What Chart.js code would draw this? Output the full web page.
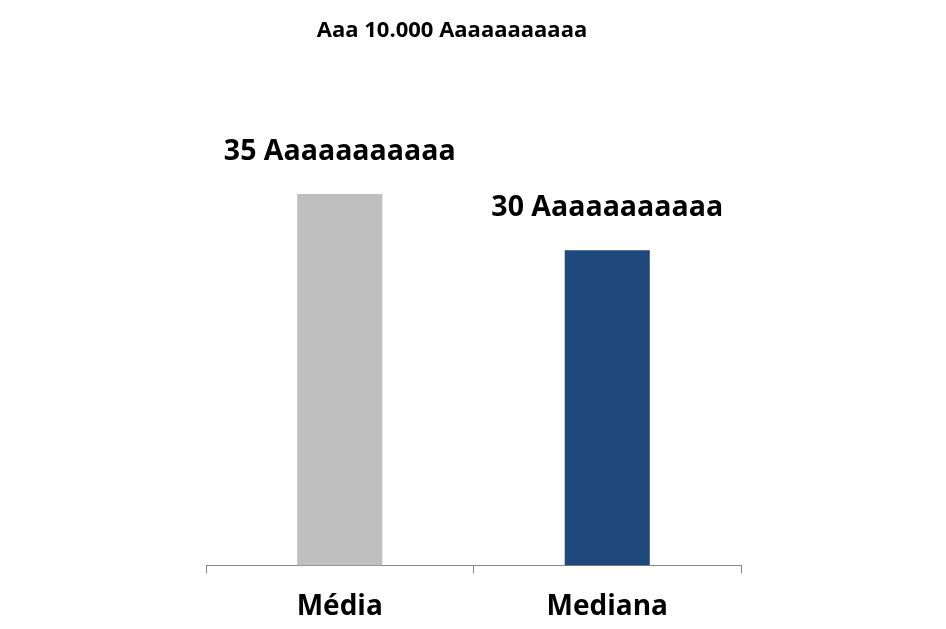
<!DOCTYPE html>
<html>
<head>
<meta charset="utf-8">
<script src="https://cdn.jsdelivr.net/npm/chart.js@4.4.0/dist/chart.umd.min.js"></script>
<style>
    html, body { margin: 0; padding: 0; background: #ffffff; }
    #wrap { width: 946px; height: 629px; position: relative; }
</style>
</head>
<body>
<div id="wrap"><canvas id="grafico"></canvas></div>
<script>
// Dados do gráfico
const categorias = ['Média', 'Mediana'];
const valores = [35, 29.7];
const rotulos = ['35 Aaaaaaaaaaa', '30 Aaaaaaaaaaa'];
const cores = ['#BFBFBF', '#1F497D'];
const titulo = 'Aaa 10.000 Aaaaaaaaaaa';

const FONTE = '"Open Sans", sans-serif';

// Título e rótulos desenhados sobre o canvas
const textosPlugin = {
    id: 'textos',
    afterDatasetsDraw(chart) {
        const ctx = chart.ctx;
        ctx.save();
        ctx.fillStyle = '#000000';
        ctx.textAlign = 'center';
        ctx.textBaseline = 'middle';
        ctx.font = 'bold 22px ' + FONTE;
        ctx.fillText(titulo, 452, 31);

        ctx.font = 'bold 28.5px ' + FONTE;
        const meta = chart.getDatasetMeta(0);
        meta.data.forEach(function(bar, i) {
            ctx.fillText(rotulos[i], bar.x, bar.y - 42);
        });
        ctx.restore();
    }
};

new Chart(document.getElementById('grafico'), {
    type: 'bar',
    data: {
        labels: categorias,
        datasets: [{
            data: valores,
            backgroundColor: cores,
            borderWidth: 0,
            barPercentage: 0.53,
            categoryPercentage: 0.6
        }]
    },
    options: {
        responsive: true,
        maintainAspectRatio: false,
        animation: false,
        layout: {
            padding: { top: 100, left: 206, right: 205, bottom: -12 }
        },
        plugins: {
            legend: { display: false },
            tooltip: { enabled: false },
            title: { display: false }
        },
        scales: {
            y: {
                display: false,
                min: 0,
                max: 43.85
            },
            x: {
                grid: {
                    display: true,
                    offset: true,
                    drawOnChartArea: false,
                    drawTicks: true,
                    tickLength: 8,
                    color: '#888888'
                },
                border: { display: true, color: '#888888', width: 1 },
                ticks: {
                    color: '#000000',
                    padding: 17,
                    font: { family: FONTE, size: 28, weight: 'bold' }
                }
            }
        }
    },
    plugins: [textosPlugin]
});
</script>
</body>
</html>
